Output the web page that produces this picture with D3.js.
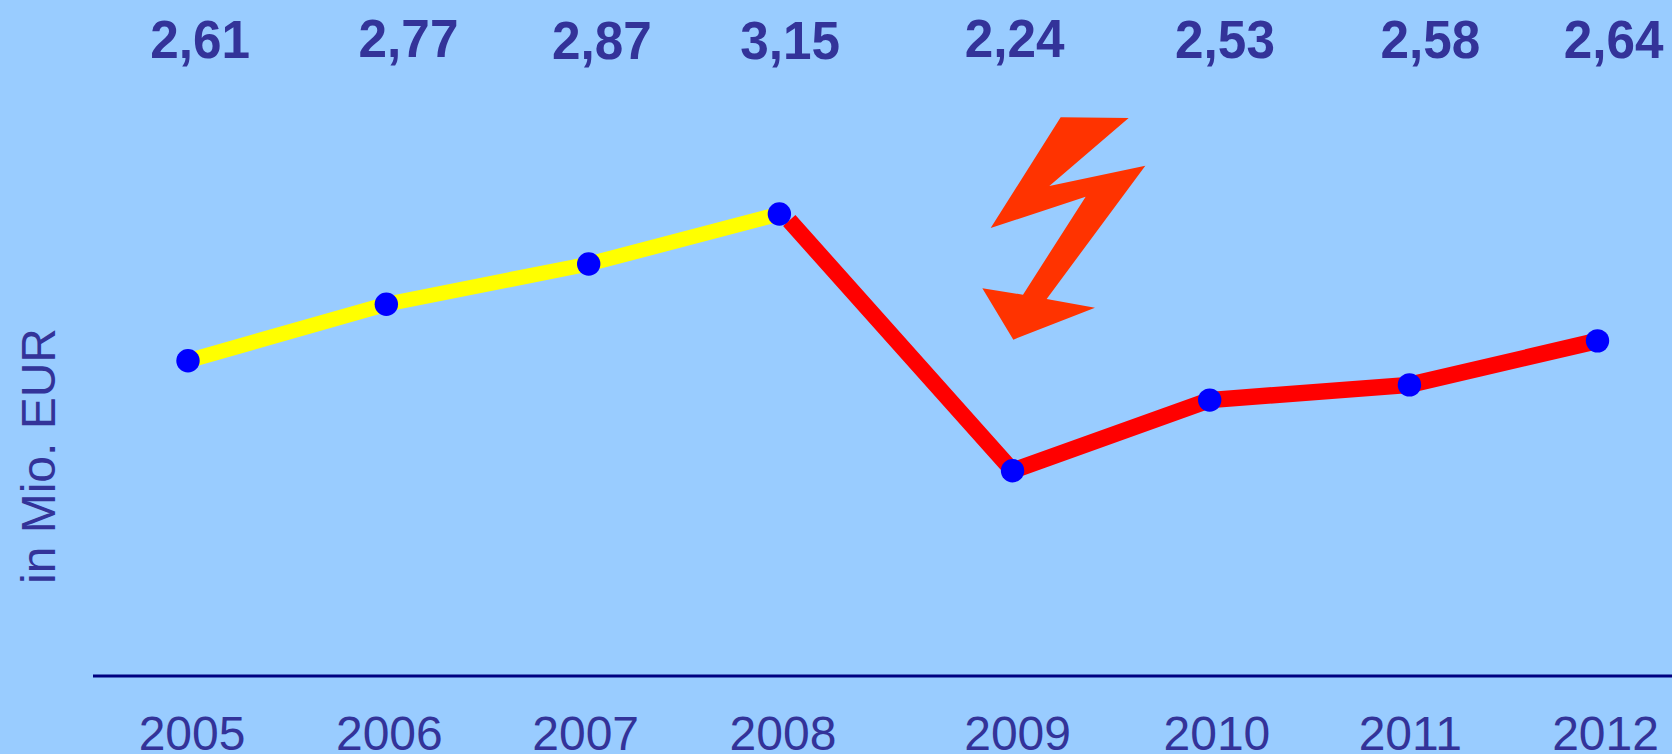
<!DOCTYPE html>
<html><head><meta charset="utf-8">
<script src="https://cdnjs.cloudflare.com/ajax/libs/d3/7.8.5/d3.min.js"></script>
<style>html,body{margin:0;padding:0;background:#99CCFF;overflow:hidden}svg{display:block}text{font-family:"Liberation Sans",Arial,sans-serif;fill:#333399}</style>
</head><body><div id="chart"></div>
<script>
const years = ["2005","2006","2007","2008","2009","2010","2011","2012"];
const valueLabels = ["2,61","2,77","2,87","3,15","2,24","2,53","2,58","2,64"];
// Values as drawn (the picture's line does not follow its labels strictly)
const drawnValues = [2.61,2.818,2.966,3.15,2.205,2.465,2.521,2.683];
// Horizontal positions on the year axis: the reference spaces its points unevenly
const pointPos = [2005,2005.985,2006.99,2007.937,2009.095,2010.074,2011.066,2012];
const yearLabelPos = [2005.02,2006,2006.975,2007.955,2009.12,2010.11,2011.07,2012.04];
const valueLabelPos = [2005.06,2006.095,2007.055,2007.99,2009.105,2010.15,2011.17,2012.08];
const valueLabelBase = [58,57,59,59,57,58,58,58];
// The red segment begins just past the 2008 point
const redStart = {x:2007.986, v:3.126};
const boltShape = [[332,52],[536,54],[298,258],[586,197],[290,597],[435,623],[190,719],[97,565],[219,584],[407,290],[122,384]];

const W=1672,H=754;
const svg=d3.select("#chart").append("svg").attr("width",W).attr("height",H);
svg.append("rect").attr("width",W).attr("height",H).attr("fill","#99CCFF");
const x=d3.scaleLinear().domain([2005,2012]).range([188,1597.5]);
const y=d3.scaleLinear().domain([2.61,3.15]).range([360.7,214]);
const pts=drawnValues.map((v,i)=>({x:pointPos[i],v}));
const line=d3.line().x(d=>x(d.x)).y(d=>y(d.v));
svg.append("path").attr("d",line(pts.slice(0,4))).attr("fill","none").attr("stroke","#FFFF00").attr("stroke-width",15);
svg.append("path").attr("d",line([redStart,...pts.slice(4)])).attr("fill","none").attr("stroke","#FF0000").attr("stroke-width",16.5).attr("stroke-linejoin","miter");
svg.selectAll("circle").data(pts).join("circle").attr("cx",d=>x(d.x)).attr("cy",d=>y(d.v)).attr("r",11.7).attr("fill","#0000FF");
// axis baseline
svg.append("line").attr("x1",93).attr("x2",W).attr("y1",676).attr("y2",676).attr("stroke","#000080").attr("stroke-width",3);
svg.selectAll(".yr").data(years).join("text").attr("class","yr").attr("x",(d,i)=>x(yearLabelPos[i])).attr("y",750).attr("text-anchor","middle").attr("font-size",48).text(d=>d);
svg.selectAll(".val").data(valueLabels).join("text").attr("class","val")
  .attr("transform",(d,i)=>`translate(${x(valueLabelPos[i])},${valueLabelBase[i]}) scale(0.95,1)`)
  .attr("text-anchor","middle").attr("font-size",54).attr("font-weight","bold").text(d=>d);
svg.append("text").attr("transform","translate(55,456) rotate(-90)").attr("text-anchor","middle").attr("font-size",48).text("in Mio. EUR");
svg.append("polygon").attr("points",boltShape.map(p=>[950+p[0]/3,100+p[1]/3].join(",")).join(" ")).attr("fill","#FF3300");
</script></body></html>
